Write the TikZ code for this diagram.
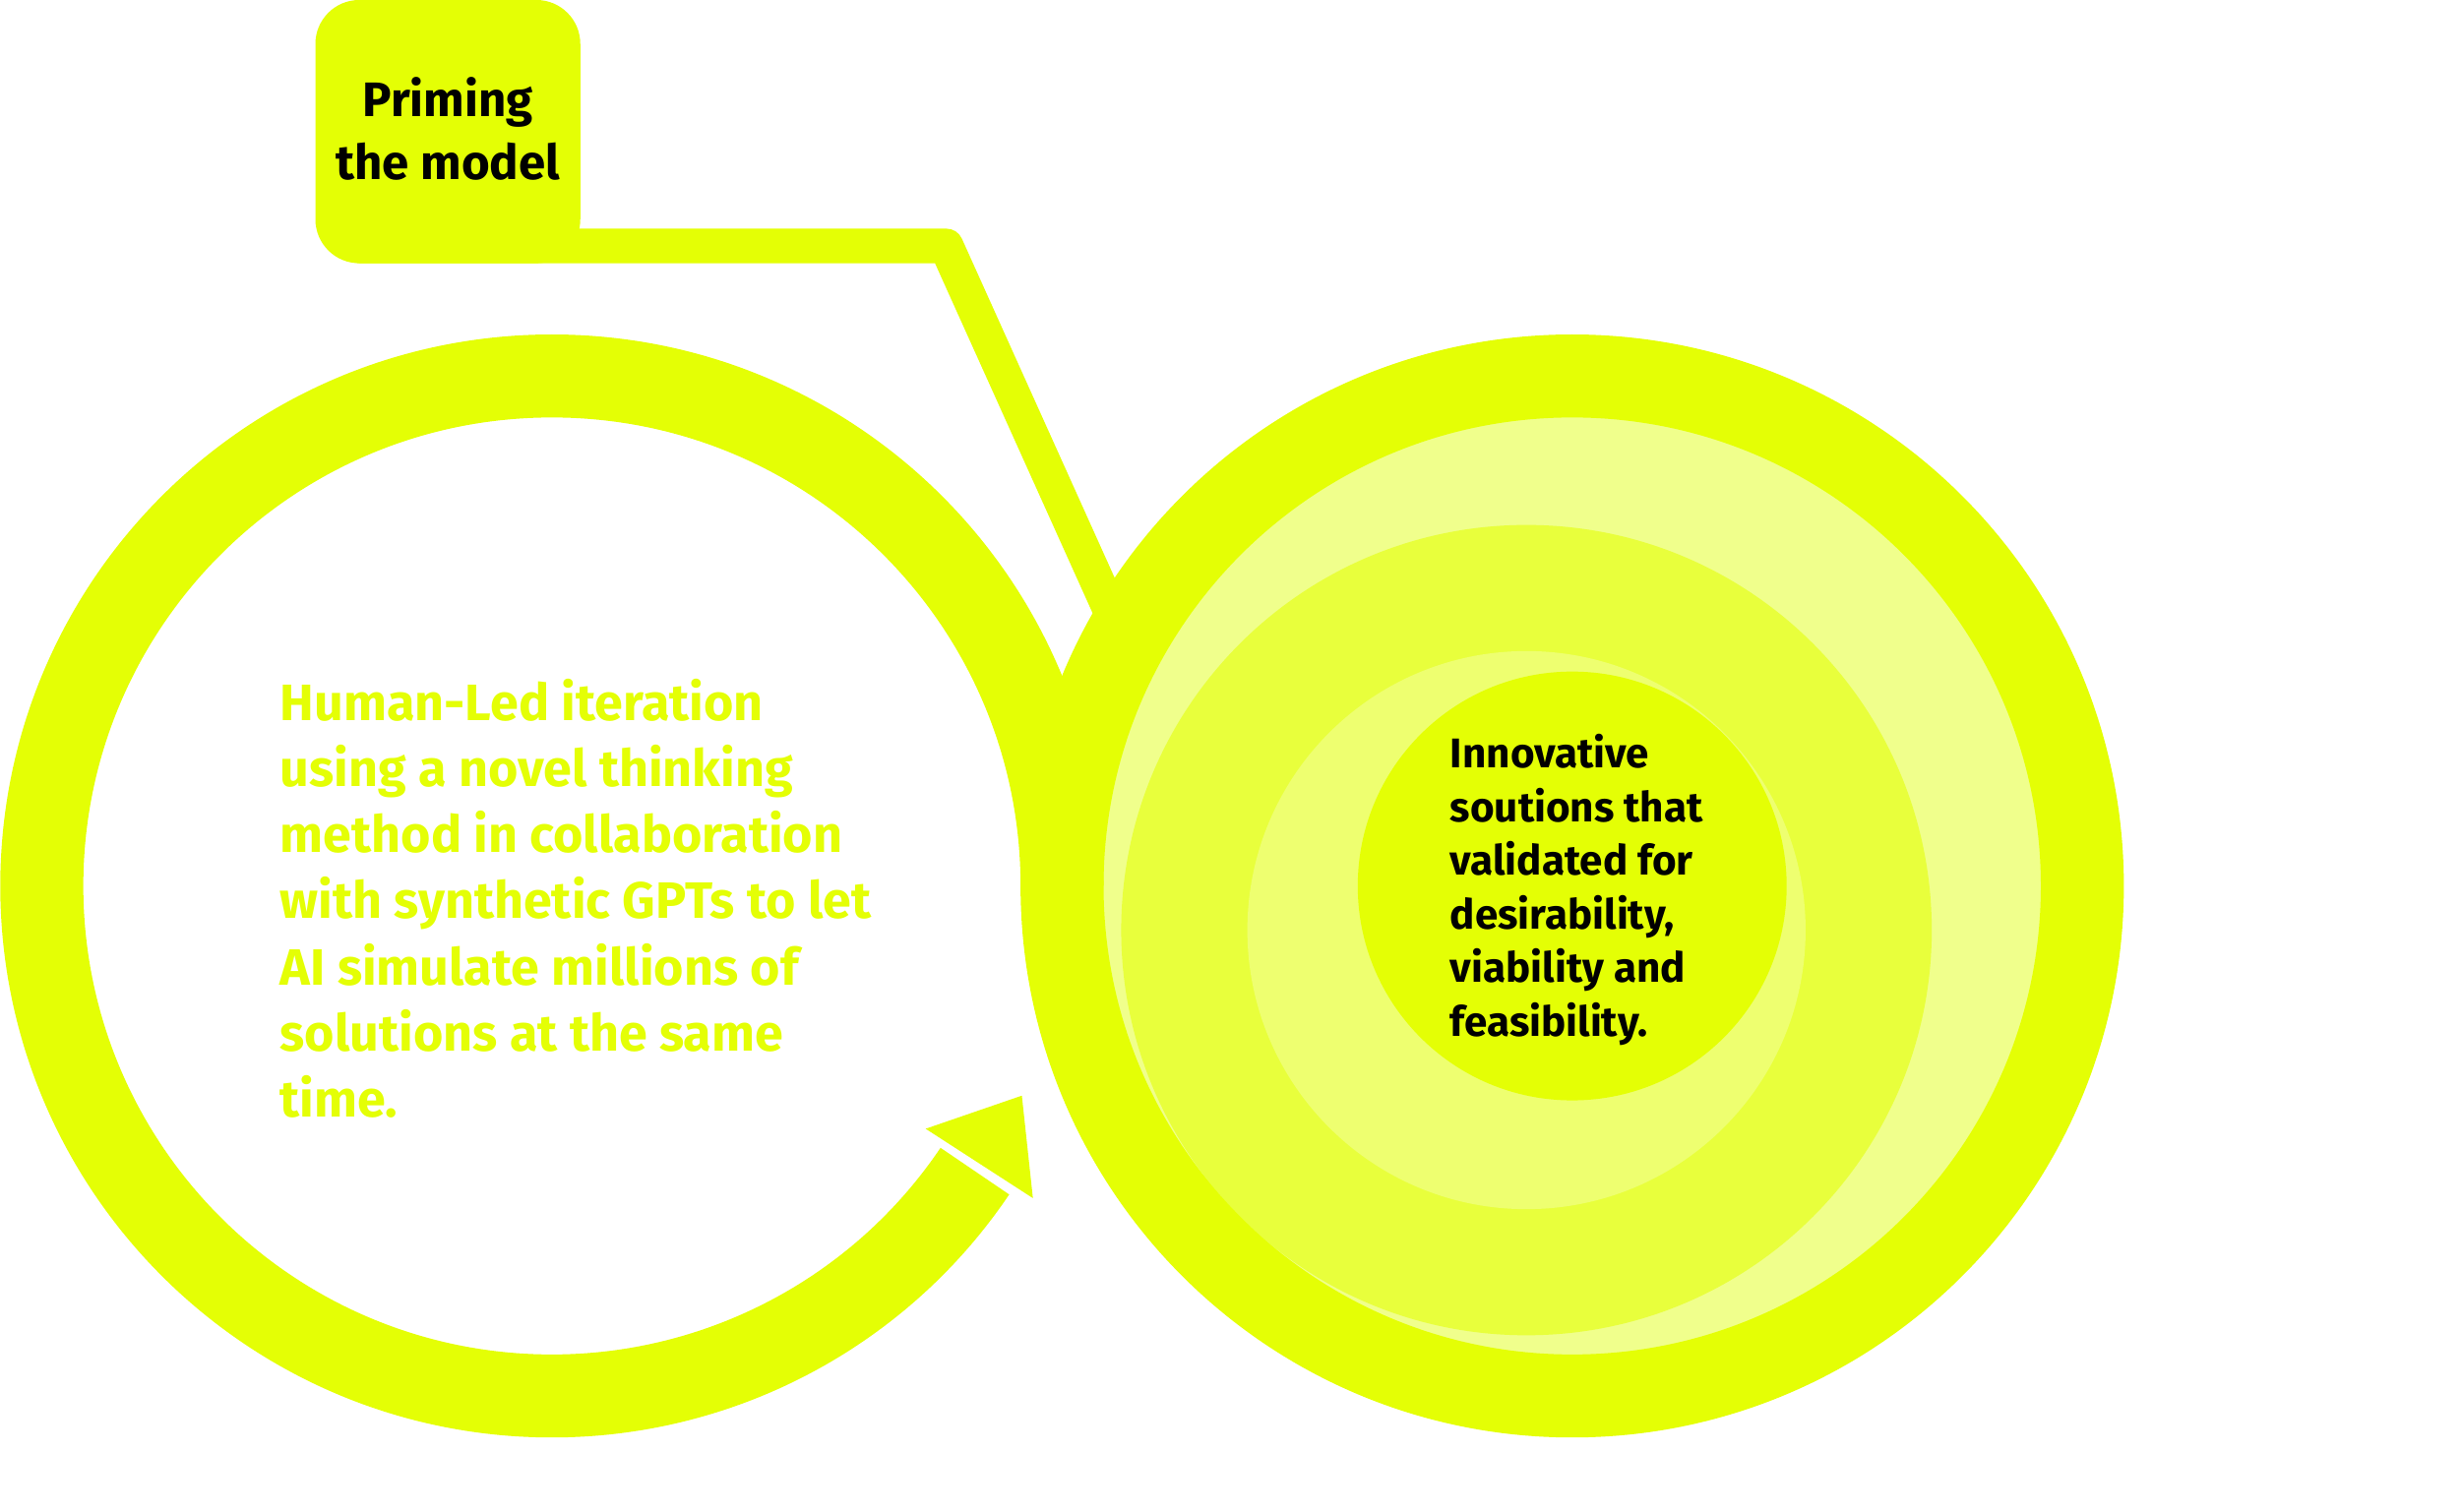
\documentclass[tikz,border=0pt]{standalone}
\usepackage{fontspec}
\setmainfont{Fira Sans}
\definecolor{ylw}{HTML}{E4FF05}
\definecolor{pale}{HTML}{F0FF8C}
\definecolor{mid}{HTML}{E8FF3C}
\definecolor{lite}{HTML}{EEFF70}
\begin{document}
\begin{tikzpicture}[x=0.016026cm,y=0.016026cm,
  band/.style={draw=ylw,line width=24pt},
  txt/.style={align=left,font=\bfseries}]
\useasboundingbox (0,0) rectangle (1560,959);
% right circle fills
\fill[pale] (997,397) circle (300);
\fill[mid] (968,369) circle (257);
\fill[lite] (968,369) circle (177);
\fill[ylw] (997,397) circle (136);
\draw[band] (997,397) circle (323.5);
% left ring
\draw[band] (673.5,397) arc[start angle=0,end angle=326,radius=323.5];
\fill[ylw] (587,243) -- (648,264) -- (655,199) -- cycle;
% top box and connector
\fill[ylw,rounded corners=12.7pt] (200,792) rectangle (368,959);
\draw[ylw,line width=10pt,line cap=round,line join=round] (228,803) -- (600,803) -- (718,541);
\node[txt,align=center,font=\bfseries\fontsize{14}{18.2}\selectfont] (prime) at (284,877) {Priming\\the model};
\node[txt,anchor=north west,text=ylw,font=\bfseries\fontsize{14.8}{19.1}\selectfont] (left) at (170,536)
 {Human-Led iteration\\using a novel thinking\\method in collaboration\\with synthetic GPTs to let\\AI simulate millions of\\solutions at the same\\time.};
\node[txt,anchor=north west,font=\bfseries\fontsize{12}{15.5}\selectfont] (right) at (912,501)
 {Innovative\\soutions that\\validated for\\desirability,\\viability and\\feasibility.};
\end{tikzpicture}
\end{document}
